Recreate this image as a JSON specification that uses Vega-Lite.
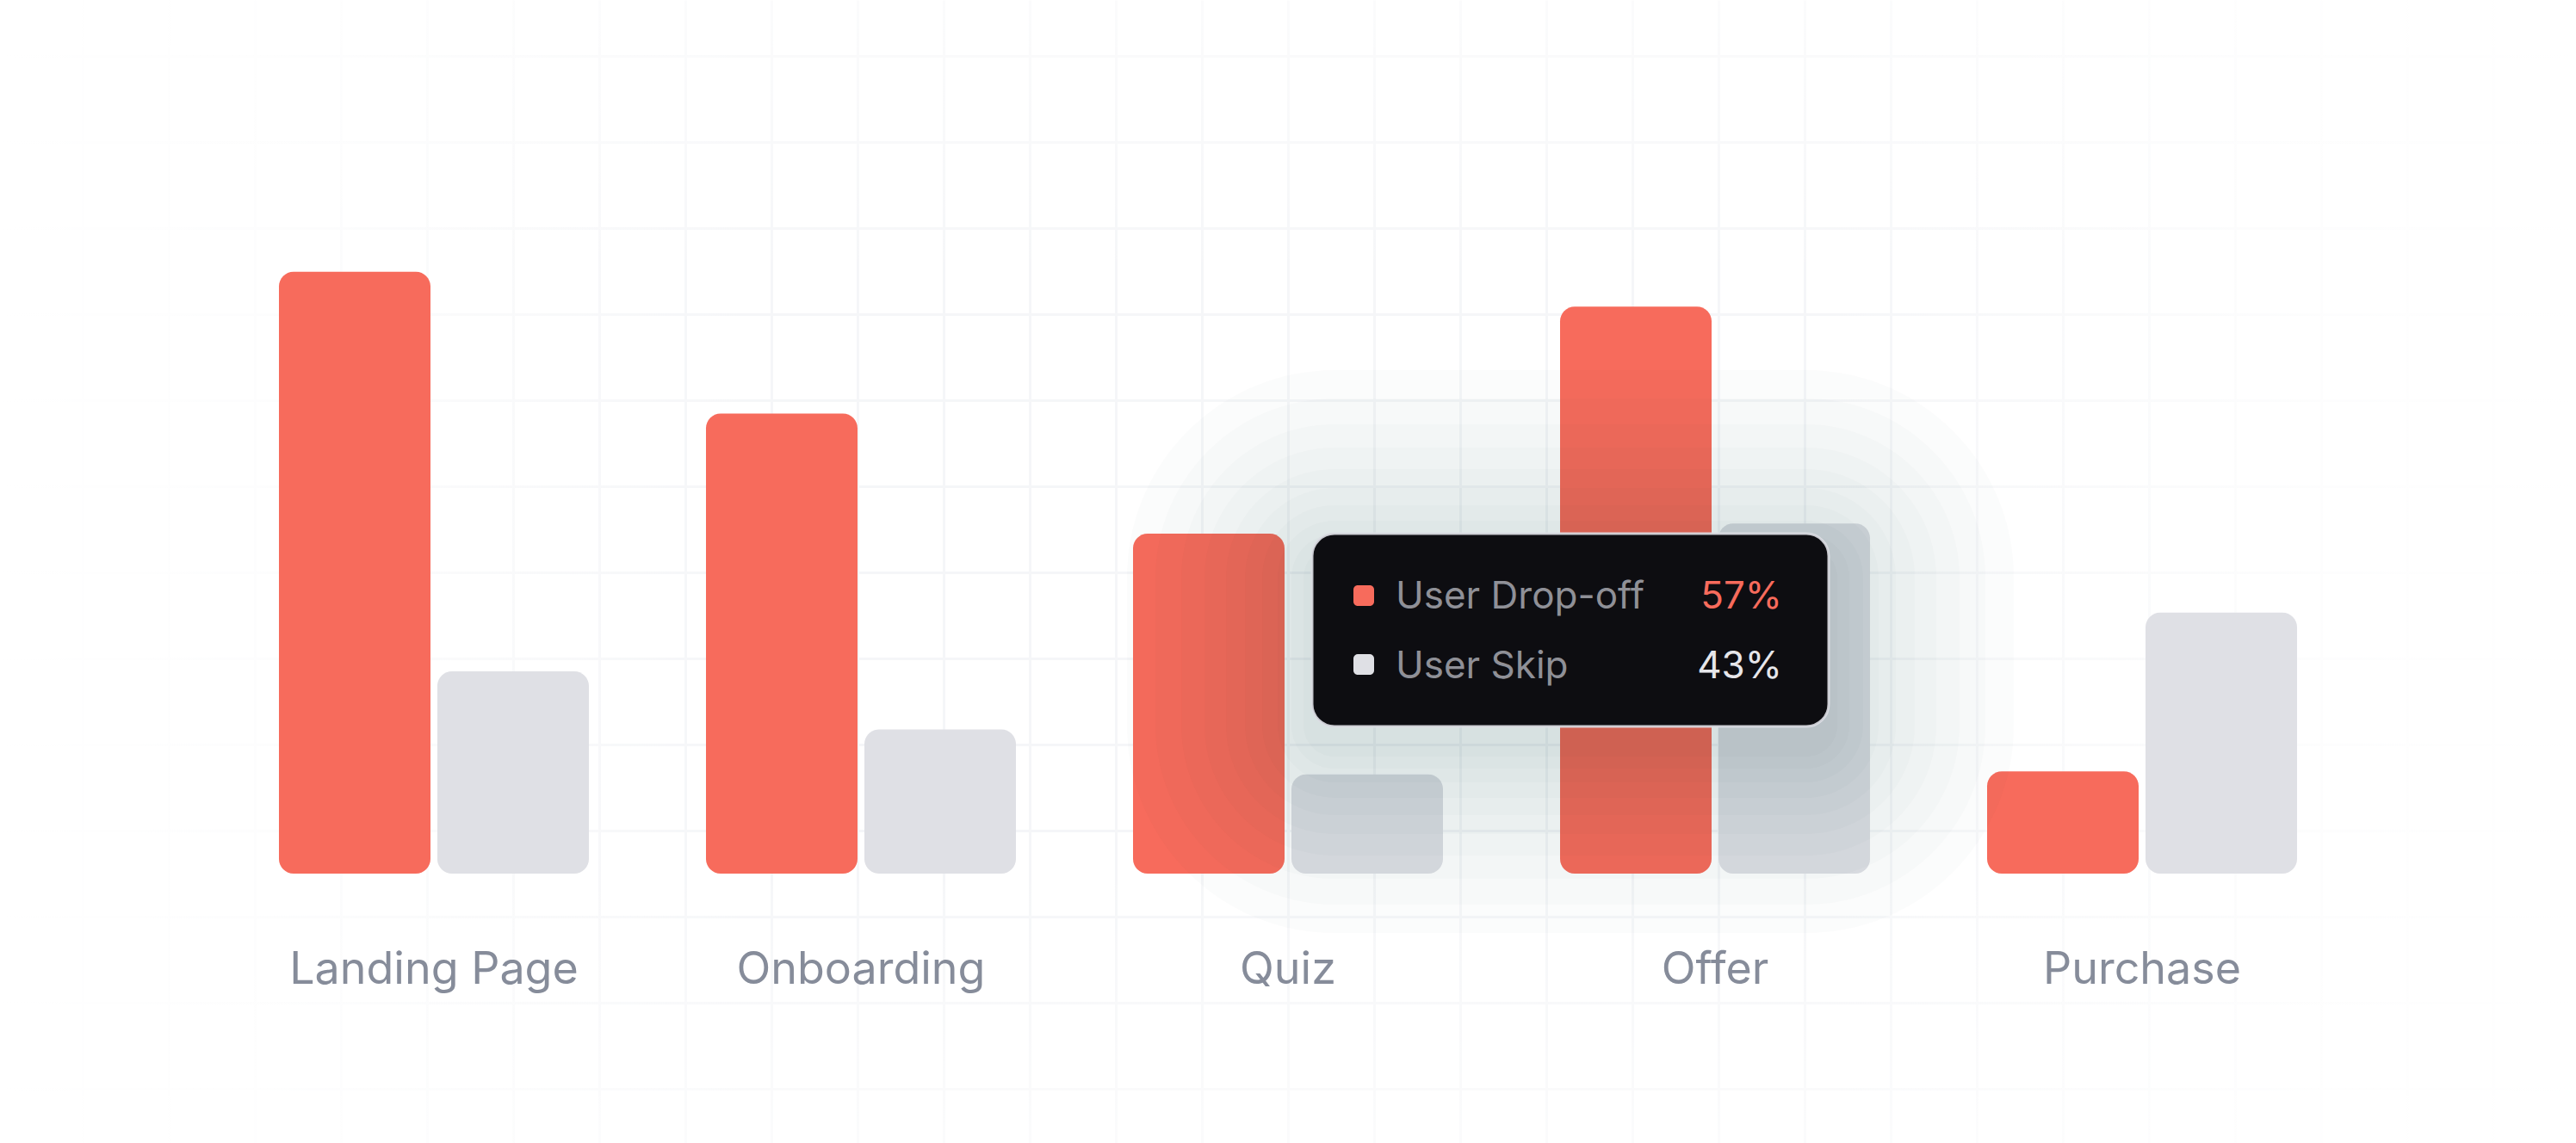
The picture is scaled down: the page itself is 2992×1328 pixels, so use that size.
{
  "$schema": "https://vega.github.io/schema/vega-lite/v6.json",
  "width": 2992,
  "height": 1328,
  "autosize": {"type": "none"},
  "padding": 0,
  "background": "#ffffff",
  "config": {"view": {"stroke": null}, "font": "Inter"},
  "datasets": {
    "funnel": [
      {"stage": "Landing Page", "series": "User Drop-off", "value": 77.7},
      {"stage": "Landing Page", "series": "User Skip", "value": 26.1},
      {"stage": "Onboarding", "series": "User Drop-off", "value": 59.4},
      {"stage": "Onboarding", "series": "User Skip", "value": 18.6},
      {"stage": "Quiz", "series": "User Drop-off", "value": 43.9},
      {"stage": "Quiz", "series": "User Skip", "value": 12.8},
      {"stage": "Offer", "series": "User Drop-off", "value": 73.2},
      {"stage": "Offer", "series": "User Skip", "value": 45.2},
      {"stage": "Purchase", "series": "User Drop-off", "value": 13.2},
      {"stage": "Purchase", "series": "User Skip", "value": 33.7}
    ],
    "hover": [
      {"stage": "Offer", "series": "User Drop-off", "share": "57%"},
      {"stage": "Offer", "series": "User Skip", "share": "43%"}
    ]
  },
  "layer": [
    {
      "data": {"values": [{}]},
      "mark": {"type": "point", "opacity": 0},
      "encoding": {
        "x": {
          "datum": 0,
          "type": "quantitative",
          "title": null,
          "scale": {"domain": [0, 2992], "nice": false, "zero": false},
          "axis": {
            "orient": "top",
            "values": [96, 196, 296, 396, 496, 596, 696, 796, 896, 996, 1096, 1196, 1296, 1396, 1496, 1596, 1696, 1796, 1896, 1996, 2096, 2196, 2296, 2396, 2496, 2596, 2696, 2796, 2896],
            "grid": true,
            "gridColor": "#f5f6f8",
            "gridWidth": 3,
            "labels": false,
            "ticks": false,
            "domain": false
          }
        }
      }
    },
    {
      "layer": [
        {
          "data": {"values": [{}]},
          "mark": {
            "type": "rect",
            "fill": {
              "gradient": "linear",
              "x1": 0, "y1": 0, "x2": 1, "y2": 0,
              "stops": [
                {"offset": 0, "color": "rgba(255,255,255,1)"},
                {"offset": 0.1, "color": "rgba(255,255,255,0.8)"},
                {"offset": 0.3, "color": "rgba(255,255,255,0)"},
                {"offset": 0.7, "color": "rgba(255,255,255,0)"},
                {"offset": 0.9, "color": "rgba(255,255,255,0.8)"},
                {"offset": 1, "color": "rgba(255,255,255,1)"}
              ]
            }
          },
          "encoding": {}
        },
        {
          "data": {"values": [{}]},
          "mark": {
            "type": "rect",
            "fill": {
              "gradient": "linear",
              "x1": 0, "y1": 0, "x2": 0, "y2": 1,
              "stops": [
                {"offset": 0, "color": "rgba(255,255,255,0.6)"},
                {"offset": 0.25, "color": "rgba(255,255,255,0)"},
                {"offset": 0.75, "color": "rgba(255,255,255,0)"},
                {"offset": 1, "color": "rgba(255,255,255,0.6)"}
              ]
            }
          },
          "encoding": {}
        },
        {
          "data": {"name": "funnel"},
          "mark": {"type": "bar", "cornerRadius": 17},
          "encoding": {
            "x": {
              "field": "stage",
              "type": "nominal",
              "title": null,
              "scale": {
                "domain": ["Landing Page", "Onboarding", "Quiz", "Offer", "Purchase"],
                "paddingInner": 0.27419,
                "paddingOuter": 0.6532
              },
              "axis": {
                "orient": "bottom",
                "offset": -313,
                "zindex": 1,
                "domain": false,
                "ticks": false,
                "tickSize": 0,
                "grid": false,
                "labelPadding": 86,
                "labelLimit": 0,
                "labelFont": "Inter",
                "labelFontSize": 52,
                "labelColor": "#868c9a",
                "labelAngle": 0
              }
            },
            "xOffset": {
              "field": "series",
              "type": "nominal",
              "scale": {"paddingInner": 0.0435, "paddingOuter": 0}
            },
            "y": {
              "field": "value",
              "type": "quantitative",
              "title": null,
              "scale": {"domain": [-34.778, 112.778], "nice": false, "zero": false},
              "axis": {
                "values": [105.56, 94.44, 83.33, 72.22, 61.11, 50, 38.89, 27.78, 16.67, 5.56, -5.56, -16.67, -27.78],
                "grid": true,
                "gridColor": "#f5f6f8",
                "gridWidth": 3,
                "labels": false,
                "ticks": false,
                "domain": false
              }
            },
            "y2": {"datum": 0},
            "color": {
              "field": "series",
              "type": "nominal",
              "scale": {"domain": ["User Drop-off", "User Skip"], "range": ["#f76b5c", "#dfe0e5"]},
              "legend": null
            }
          }
        },
        {
          "data": {"values": [{}]},
          "mark": {"type": "bar", "width": 1030, "xOffset": -168, "cornerRadius": 241, "fill": "#1b2133", "opacity": 0.015},
          "encoding": {
            "x": {"datum": "Offer", "type": "nominal", "title": null},
            "y": {"datum": 65.0, "type": "quantitative", "title": null},
            "y2": {"datum": -7.67}
          }
        },
        {
          "data": {"values": [{}]},
          "mark": {"type": "bar", "width": 964, "xOffset": -168, "cornerRadius": 208, "fill": "#1b2133", "opacity": 0.015},
          "encoding": {
            "x": {"datum": "Offer", "type": "nominal", "title": null},
            "y": {"datum": 61.33, "type": "quantitative", "title": null},
            "y2": {"datum": -4.0}
          }
        },
        {
          "data": {"values": [{}]},
          "mark": {"type": "bar", "width": 904, "xOffset": -168, "cornerRadius": 178, "fill": "#1b2133", "opacity": 0.015},
          "encoding": {
            "x": {"datum": "Offer", "type": "nominal", "title": null},
            "y": {"datum": 58.0, "type": "quantitative", "title": null},
            "y2": {"datum": -0.67}
          }
        },
        {
          "data": {"values": [{}]},
          "mark": {"type": "bar", "width": 850, "xOffset": -168, "cornerRadius": 151, "fill": "#1b2133", "opacity": 0.015},
          "encoding": {
            "x": {"datum": "Offer", "type": "nominal", "title": null},
            "y": {"datum": 55.0, "type": "quantitative", "title": null},
            "y2": {"datum": 2.33}
          }
        },
        {
          "data": {"values": [{}]},
          "mark": {"type": "bar", "width": 800, "xOffset": -168, "cornerRadius": 126, "fill": "#1b2133", "opacity": 0.015},
          "encoding": {
            "x": {"datum": "Offer", "type": "nominal", "title": null},
            "y": {"datum": 52.22, "type": "quantitative", "title": null},
            "y2": {"datum": 5.11}
          }
        },
        {
          "data": {"values": [{}]},
          "mark": {"type": "bar", "width": 756, "xOffset": -168, "cornerRadius": 104, "fill": "#1b2133", "opacity": 0.015},
          "encoding": {
            "x": {"datum": "Offer", "type": "nominal", "title": null},
            "y": {"datum": 49.78, "type": "quantitative", "title": null},
            "y2": {"datum": 7.56}
          }
        },
        {
          "data": {"values": [{}]},
          "mark": {"type": "bar", "width": 716, "xOffset": -168, "cornerRadius": 84, "fill": "#1b2133", "opacity": 0.015},
          "encoding": {
            "x": {"datum": "Offer", "type": "nominal", "title": null},
            "y": {"datum": 47.56, "type": "quantitative", "title": null},
            "y2": {"datum": 9.78}
          }
        },
        {
          "data": {"values": [{}]},
          "mark": {"type": "bar", "width": 680, "xOffset": -168, "cornerRadius": 66, "fill": "#1b2133", "opacity": 0.015},
          "encoding": {
            "x": {"datum": "Offer", "type": "nominal", "title": null},
            "y": {"datum": 45.56, "type": "quantitative", "title": null},
            "y2": {"datum": 11.78}
          }
        },
        {
          "data": {"values": [{}]},
          "mark": {"type": "bar", "width": 648, "xOffset": -168, "cornerRadius": 50, "fill": "#1b2133", "opacity": 0.015},
          "encoding": {
            "x": {"datum": "Offer", "type": "nominal", "title": null},
            "y": {"datum": 43.78, "type": "quantitative", "title": null},
            "y2": {"datum": 13.56}
          }
        },
        {
          "data": {"values": [{}]},
          "mark": {"type": "bar", "width": 620, "xOffset": -168, "cornerRadius": 36, "fill": "#1b2133", "opacity": 0.015},
          "encoding": {
            "x": {"datum": "Offer", "type": "nominal", "title": null},
            "y": {"datum": 42.22, "type": "quantitative", "title": null},
            "y2": {"datum": 15.11}
          }
        },
        {
          "data": {"values": [{}]},
          "mark": {
            "type": "bar",
            "width": 600,
            "xOffset": -168,
            "cornerRadius": 26,
            "fill": "#0d0d11",
            "stroke": "#dcdde3",
            "strokeWidth": 3,
            "strokeOpacity": 0.9
          },
          "encoding": {
            "x": {"datum": "Offer", "type": "nominal", "title": null},
            "y": {"datum": 43.89, "type": "quantitative", "title": null},
            "y2": {"datum": 19.0}
          }
        },
        {
          "data": {"name": "hover"},
          "transform": [{"filter": "datum.series === 'User Drop-off'"}],
          "mark": {"type": "bar", "width": 24, "xOffset": -408, "cornerRadius": 5, "fill": "#f76b5c"},
          "encoding": {
            "x": {"datum": "Offer", "type": "nominal", "title": null},
            "y": {"datum": 37.22, "type": "quantitative", "title": null},
            "y2": {"datum": 34.56}
          }
        },
        {
          "data": {"name": "hover"},
          "transform": [{"filter": "datum.series === 'User Skip'"}],
          "mark": {"type": "bar", "width": 24, "xOffset": -408, "cornerRadius": 5, "fill": "#dfe0e5"},
          "encoding": {
            "x": {"datum": "Offer", "type": "nominal", "title": null},
            "y": {"datum": 28.33, "type": "quantitative", "title": null},
            "y2": {"datum": 25.67}
          }
        },
        {
          "data": {"name": "hover"},
          "transform": [{"filter": "datum.series === 'User Drop-off'"}],
          "mark": {"type": "text", "font": "Inter", "fontSize": 44, "align": "left", "baseline": "alphabetic", "xOffset": -371, "fill": "#8f9097"},
          "encoding": {
            "x": {"datum": "Offer", "type": "nominal", "title": null},
            "y": {"datum": 34.22, "type": "quantitative", "title": null},
            "text": {"field": "series"}
          }
        },
        {
          "data": {"name": "hover"},
          "transform": [{"filter": "datum.series === 'User Skip'"}],
          "mark": {"type": "text", "font": "Inter", "fontSize": 44, "align": "left", "baseline": "alphabetic", "xOffset": -371, "fill": "#8f9097"},
          "encoding": {
            "x": {"datum": "Offer", "type": "nominal", "title": null},
            "y": {"datum": 25.22, "type": "quantitative", "title": null},
            "text": {"field": "series"}
          }
        },
        {
          "data": {"name": "hover"},
          "transform": [{"filter": "datum.series === 'User Drop-off'"}],
          "mark": {"type": "text", "font": "Inter", "fontSize": 44, "align": "right", "baseline": "alphabetic", "xOffset": 78, "fill": "#f76b5c"},
          "encoding": {
            "x": {"datum": "Offer", "type": "nominal", "title": null},
            "y": {"datum": 34.22, "type": "quantitative", "title": null},
            "text": {"field": "share"}
          }
        },
        {
          "data": {"name": "hover"},
          "transform": [{"filter": "datum.series === 'User Skip'"}],
          "mark": {"type": "text", "font": "Inter", "fontSize": 44, "align": "right", "baseline": "alphabetic", "xOffset": 78, "fill": "#e6e6ea"},
          "encoding": {
            "x": {"datum": "Offer", "type": "nominal", "title": null},
            "y": {"datum": 25.22, "type": "quantitative", "title": null},
            "text": {"field": "share"}
          }
        }
      ]
    }
  ],
  "resolve": {"scale": {"x": "independent"}, "axis": {"x": "independent"}}
}
